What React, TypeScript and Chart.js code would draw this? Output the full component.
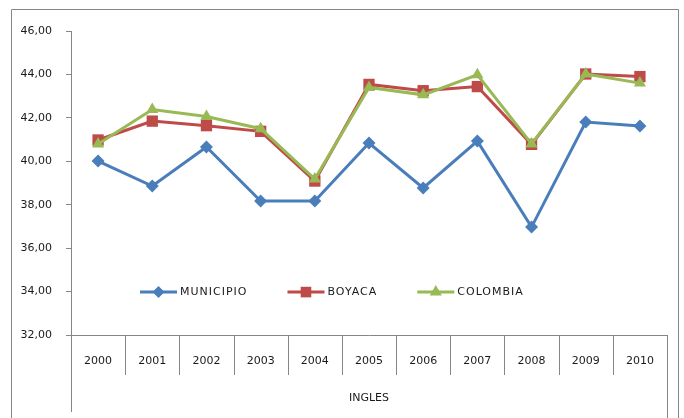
import React, { useEffect, useRef } from "react";
import { Chart, registerables } from "chart.js";
Chart.register(...registerables);

const years = ["2000", "2001", "2002", "2003", "2004", "2005", "2006", "2007", "2008", "2009", "2010"];
const municipio = [40.01, 38.86, 40.66, 38.17, 38.17, 40.84, 38.77, 40.93, 36.97, 41.81, 41.62];
const boyaca = [40.98, 41.85, 41.64, 41.38, 39.09, 43.54, 43.25, 43.44, 40.78, 44.02, 43.9];
const colombia = [40.8, 42.38, 42.06, 41.5, 39.18, 43.4, 43.06, 43.98, 40.8, 44.02, 43.6];
const seriesNames = ["MUNICIPIO", "BOYACA", "COLOMBIA"];
const yMin = 32;
const yMax = 46;
const yStep = 2;
const groupLabel = "INGLES";

const BLUE = "#4A7EBB";
const RED = "#BE4B48";
const GREEN = "#98B954";
const AXIS = "#868686";
const FONT = "DejaVu Sans";

export default function App() {
  const ref = useRef<HTMLCanvasElement | null>(null);

  useEffect(() => {
    if (!ref.current) return;

    function drawMarker(ctx: CanvasRenderingContext2D, style: string, x: number, y: number, r: number, c: string) {
      ctx.fillStyle = c;
      ctx.beginPath();
      if (style === "rectRot") {
        ctx.moveTo(x, y - r);
        ctx.lineTo(x + r, y);
        ctx.lineTo(x, y + r);
        ctx.lineTo(x - r, y);
      } else if (style === "rect") {
        const s = Math.SQRT1_2 * r;
        ctx.rect(x - s, y - s, 2 * s, 2 * s);
      } else {
        ctx.moveTo(x, y - r);
        ctx.lineTo(x + r * Math.sin((2 * Math.PI) / 3), y - r * Math.cos((2 * Math.PI) / 3));
        ctx.lineTo(x - r * Math.sin((2 * Math.PI) / 3), y - r * Math.cos((2 * Math.PI) / 3));
      }
      ctx.closePath();
      ctx.fill();
    }

    const decor = {
      id: "decor",
      beforeDraw(chart: any) {
        const ctx = chart.ctx;
        ctx.save();
        ctx.fillStyle = "#ffffff";
        ctx.fillRect(0, 0, chart.width, chart.height);
        ctx.strokeStyle = AXIS;
        ctx.lineWidth = 1;
        ctx.beginPath();
        ctx.moveTo(11.5, chart.height);
        ctx.lineTo(11.5, 9.5);
        ctx.lineTo(678.5, 9.5);
        ctx.lineTo(678.5, chart.height);
        ctx.stroke();
        ctx.restore();
      },
      afterDraw(chart: any) {
        const ctx = chart.ctx;
        const area = chart.chartArea;
        const xs = chart.scales.x;
        const n = years.length;
        const half = (xs.getPixelForValue(1) - xs.getPixelForValue(0)) / 2;
        ctx.save();
        ctx.strokeStyle = AXIS;
        ctx.lineWidth = 1;
        ctx.beginPath();
        for (let i = 1; i < n; i++) {
          const x = Math.round(xs.getPixelForValue(i) - half) + 0.5;
          ctx.moveTo(x, area.bottom);
          ctx.lineTo(x, area.bottom + 40);
        }
        const l = Math.round(area.left) + 0.5;
        ctx.moveTo(l, area.bottom);
        ctx.lineTo(l, area.bottom + 77);
        const r = Math.round(xs.getPixelForValue(n - 1) + half) + 0.5;
        ctx.moveTo(r, area.bottom);
        ctx.lineTo(r, chart.height);
        ctx.stroke();

        ctx.fillStyle = "#1a1a1a";
        ctx.font = `11px ${FONT}`;
        ctx.textAlign = "center";
        ctx.textBaseline = "middle";
        ctx.fillText(groupLabel, (area.left + area.right) / 2, area.bottom + 63);

        // legend inside plot area
        const colors = [BLUE, RED, GREEN];
        const styles = ["rectRot", "rect", "triangle"];
        const radii = [6, 7.5, 7];
        const ly = chart.scales.y.getPixelForValue(34) + 0.5;
        let x = 140;
        ctx.textAlign = "left";
        (ctx as any).letterSpacing = "1px";
        for (let i = 0; i < 3; i++) {
          ctx.strokeStyle = colors[i];
          ctx.lineWidth = 3;
          ctx.beginPath();
          ctx.moveTo(x, ly);
          ctx.lineTo(x + 37, ly);
          ctx.stroke();
          drawMarker(ctx, styles[i], x + 18.5, ly, radii[i], colors[i]);
          ctx.fillStyle = "#1a1a1a";
          ctx.fillText(seriesNames[i], x + 40, ly);
          const w = ctx.measureText(seriesNames[i]).width;
          x = x + 40 + w + 40;
        }
        ctx.restore();
      },
    };

    const chart = new Chart(ref.current, {
      type: "line",
      data: {
        labels: years,
        datasets: [
          {
            label: seriesNames[0],
            data: municipio,
            borderColor: BLUE,
            backgroundColor: BLUE,
            borderWidth: 3,
            pointStyle: "rectRot",
            pointRadius: 6.5,
            pointBorderWidth: 0,
            order: 2,
          },
          {
            label: seriesNames[1],
            data: boyaca,
            borderColor: RED,
            backgroundColor: RED,
            borderWidth: 3,
            pointStyle: "rect",
            pointRadius: 8,
            pointBorderWidth: 0,
            order: 1,
          },
          {
            label: seriesNames[2],
            data: colombia,
            borderColor: GREEN,
            backgroundColor: GREEN,
            borderWidth: 3,
            pointStyle: "triangle",
            pointRadius: 7,
            pointBorderWidth: 0,
            order: 0,
          },
        ],
      },
      options: {
        animation: false,
        responsive: false,
        maintainAspectRatio: false,
        layout: { padding: { top: 31, right: 17, left: 0, bottom: 0 } },
        plugins: {
          legend: { display: false },
          tooltip: { enabled: false },
        },
        elements: { line: { tension: 0 } },
        scales: {
          x: {
            type: "category",
            offset: true,
            grid: { display: false },
            border: { display: true, color: AXIS, width: 1 },
            ticks: {
              padding: 12,
              color: "#1a1a1a",
              font: { family: FONT, size: 11 },
              maxRotation: 0,
              autoSkip: false,
            },
            afterFit: (s: any) => {
              s.height = 83;
            },
          },
          y: {
            min: yMin,
            max: yMax,
            ticks: {
              stepSize: yStep,
              padding: 14,
              color: "#1a1a1a",
              font: { family: FONT, size: 11 },
              callback: (v: any) => Number(v).toFixed(2).replace(".", ","),
            },
            grid: { drawOnChartArea: false, tickLength: 5, color: AXIS },
            border: { display: true, color: AXIS, width: 1 },
            afterFit: (s: any) => {
              s.width = 71;
            },
          },
        },
      },
      plugins: [decor],
    });
    return () => chart.destroy();
  }, []);

  return (
    <div style={{ position: "fixed", left: 0, top: 0, width: 684, height: 418, background: "#fff" }}>
      <canvas ref={ref} width={684} height={418} style={{ display: "block", width: 684, height: 418 }} />
    </div>
  );
}
